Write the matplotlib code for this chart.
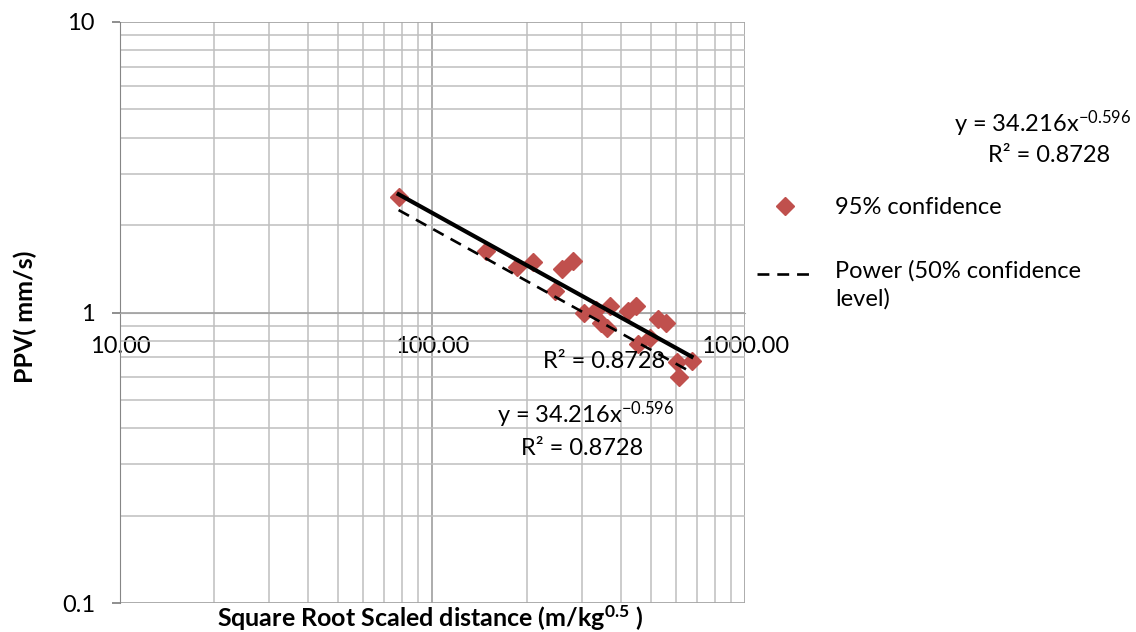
import numpy as np
import matplotlib
matplotlib.use("Agg")
import matplotlib.pyplot as plt
from matplotlib.ticker import LogLocator, NullFormatter, FixedLocator, FixedFormatter
from matplotlib.legend_handler import HandlerLine2D

plt.rcParams['font.family'] = ['Lato', 'DejaVu Sans']
plt.rcParams['mathtext.fontset'] = 'custom'
plt.rcParams['mathtext.rm'] = 'Lato'
plt.rcParams['mathtext.it'] = 'Lato:italic'
plt.rcParams['mathtext.bf'] = 'Lato:bold'

# データ
srsd = [77.9, 147.9, 185.8, 210.3, 246.6, 260.4, 282.5, 305.6, 332.4, 345.1,
        362.8, 370.0, 420.9, 447.6, 453.0, 497.3, 525.0, 558.0, 608.0, 615.0, 674.6]
ppv = [2.49, 1.63, 1.43, 1.49, 1.19, 1.41, 1.50, 1.00, 1.02, 0.92,
       0.886, 1.05, 1.01, 1.05, 0.780, 0.818, 0.951, 0.921, 0.674, 0.600, 0.679]

# 近似曲線 y = a * x^b
fit_a = 34.216
fit_b = -0.596
fit50_a = 30.2   # 50% 信頼レベル（破線）

x_ticks = [10, 100, 1000]
x_ticklabels = ['10.00', '100.00', '1000.00']
y_ticks = [0.1, 1, 10]
y_ticklabels = ['0.1', '1', '10']

red = '#C0504D'
grid_minor = '#BFBFBF'
grid_major = '#A6A6A6'
FS = 17


class UpHandler(HandlerLine2D):
    '''複数行ラベルの1行目に線を合わせる'''
    def create_artists(self, legend, orig_handle, xdescent, ydescent,
                       width, height, fontsize, trans):
        arts = super().create_artists(legend, orig_handle, xdescent, ydescent,
                                      width, height, fontsize, trans)
        for a in arts:
            a.set_ydata(np.asarray(a.get_ydata()) + 8)
        return arts


fig = plt.figure(figsize=(11.36, 6.32), dpi=100)
ax = fig.add_axes([120 / 1136, 29 / 632, 625 / 1136, 581 / 632])
ax.set_xscale('log')
ax.set_yscale('log')
ax.set_xlim(10, 1000)
ax.set_ylim(0.1, 10)

# グリッド
ax.xaxis.set_major_locator(FixedLocator(x_ticks))
ax.yaxis.set_major_locator(FixedLocator(y_ticks))
ax.xaxis.set_major_formatter(FixedFormatter(x_ticklabels))
ax.yaxis.set_major_formatter(FixedFormatter(y_ticklabels))
ax.xaxis.set_minor_locator(LogLocator(base=10, subs=np.arange(2, 10)))
ax.yaxis.set_minor_locator(LogLocator(base=10, subs=np.arange(2, 10)))
ax.xaxis.set_minor_formatter(NullFormatter())
ax.yaxis.set_minor_formatter(NullFormatter())
ax.grid(True, which='minor', color=grid_minor, linewidth=1.1)
ax.grid(True, which='major', color=grid_major, linewidth=1.3)
ax.set_axisbelow(True)

ax.tick_params(axis='x', which='both', length=0, pad=17, labelsize=FS)
ax.tick_params(axis='y', which='major', length=6, color='#868686', width=1.3,
               pad=12, labelsize=FS)
ax.tick_params(axis='y', which='minor', length=0)

# 横軸は y=1 で交差
ax.spines['bottom'].set_position(('data', 1))
ax.spines['bottom'].set_color(grid_major)
ax.spines['left'].set_color('#868686')
ax.spines['top'].set_visible(False)
ax.spines['right'].set_visible(False)

# 散布点
pts, = ax.plot(srsd, ppv, linestyle='none', marker='D', markersize=9.5,
               color=red, label='95% confidence', zorder=3)

# 近似線
xs = np.array([min(srsd), max(srsd)])
ax.plot(xs, fit_a * xs ** fit_b, color='black', linewidth=3.0, zorder=4)
dash, = ax.plot(xs, fit50_a * xs ** fit_b, color='black', linewidth=1.9,
                linestyle=(0, (4.5, 3)), label='Power (50% confidence\nlevel)', zorder=4)

ax.set_ylabel('PPV( mm/s)', fontsize=18, fontweight='bold')
ax.yaxis.set_label_coords(-0.133, 0.492)
fig.text(430 / 1136, 1 - 627 / 632, r'Square Root Scaled distance (m/kg$^{\mathbf{0.5}}$ )',
         fontsize=18, fontweight='bold', ha='center', va='baseline')

eq = 'y = 34.216x$^{\\mathregular{-0.596}}$'
fig.text(1131 / 1136, 1 - 132 / 632, eq, fontsize=FS, ha='right', va='baseline')
fig.text(1049 / 1136, 1 - 162 / 632, 'R² = 0.8728', fontsize=FS, ha='center', va='baseline')
fig.text(497 / 1136, 1 - 423 / 632, eq, fontsize=FS, ha='left', va='baseline')
fig.text(582 / 1136, 1 - 455 / 632, 'R² = 0.8728', fontsize=FS, ha='center', va='baseline')
fig.text(604 / 1136, 1 - 368 / 632, 'R² = 0.8728', fontsize=FS, ha='center', va='baseline')

leg = fig.legend(handles=[pts, dash], loc='upper left',
                 bbox_to_anchor=(757 / 1136, 1 - 197 / 632),
                 frameon=False, fontsize=FS, borderpad=0, borderaxespad=0,
                 handlelength=2.4, handletextpad=0.9, labelspacing=1.8,
                 handler_map={dash: UpHandler()})
leg.get_texts()[1].set_linespacing(1.35)

fig.savefig('out.png', dpi=100)
